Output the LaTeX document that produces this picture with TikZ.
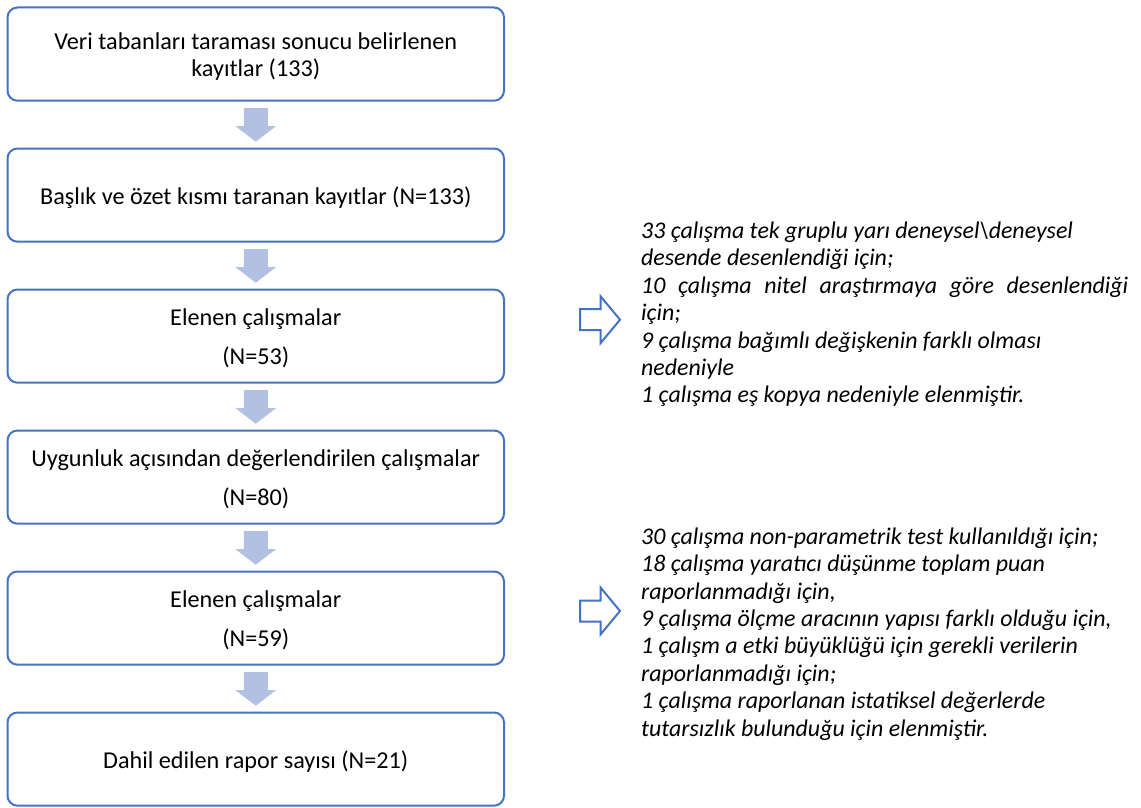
\documentclass[tikz,border=0pt]{standalone}
\usepackage{fontspec}
\setmainfont{Carlito}
\usetikzlibrary{calc}
\definecolor{boxblue}{RGB}{68,114,196}
\definecolor{arrfill}{RGB}{178,192,226}
\tikzset{
 stepbox/.style={draw=boxblue, line width=2pt, rounded corners=10pt, fill=white,
   minimum width=496.5pt, minimum height=93.2pt, align=center, inner sep=0pt,
   font=\fontsize{24.2}{27.3}\selectfont},
 note/.style={anchor=north west, align=left, inner sep=0pt,
   font=\fontsize{23.9}{27.4}\selectfont\itshape},
 downarr/.style={fill=arrfill},
 rightarr/.style={draw=boxblue, line width=2pt, fill=white, line join=miter},
}
\newcommand\boxtext[1]{\raisebox{-3.5pt}[\height][\depth]{\begin{tabular}{@{}c@{}}#1\end{tabular}}}
\newcommand\flowarrow[2]{%
  \fill[downarr] ($(#1.south)+(-12,6.3)$) -- ($(#1.south)+(12,6.3)$)
    -- ($(#1.south)+(12,24.3)$) -- ($(#1.south)+(20.5,24.3)$)
    -- ($(#2.north)+(0,-5.8)$)
    -- ($(#1.south)+(-20.5,24.3)$) -- ($(#1.south)+(-12,24.3)$) -- cycle;}
\newcommand\sidearrow[1]{%
  \draw[rightarr] (580,#1-10.5) -- (600.5,#1-10.5) -- (600.5,#1-23.5)
    -- (620,#1) -- (600.5,#1+23.5) -- (600.5,#1+10.5) -- (580,#1+10.5) -- cycle;}
\begin{document}
\begin{tikzpicture}[x=1pt,y=-1pt]
\useasboundingbox (0,0) rectangle (1141,808);
\node[stepbox] (b1) at (255.75,54.1) {\boxtext{Veri tabanları taraması sonucu belirlenen\\kayıtlar (133)}};
\node[stepbox] (b2) at (255.75,195.1) {\boxtext{Başlık ve özet kısmı taranan kayıtlar (N=133)}};
\node[stepbox] (b3) at (255.75,336.1) {\boxtext{Elenen çalışmalar\\[12pt](N=53)}};
\node[stepbox] (b4) at (255.75,477.1) {\boxtext{Uygunluk açısından değerlendirilen çalışmalar\\[12pt](N=80)}};
\node[stepbox] (b5) at (255.75,618.1) {\boxtext{Elenen çalışmalar\\[12pt](N=59)}};
\node[stepbox] (b6) at (255.75,759.1) {\boxtext{Dahil edilen rapor sayısı (N=21)}};
\flowarrow{b1}{b2}
\flowarrow{b2}{b3}
\flowarrow{b3}{b4}
\flowarrow{b4}{b5}
\flowarrow{b5}{b6}
\sidearrow{319.7}
\sidearrow{611}
\node[note] (n1) at (641,221.8) {33 çalışma tek gruplu yarı deneysel\textbackslash deneysel\\
desende desenlendiği için;\\
\makebox[487pt][s]{10 çalışma nitel araştırmaya göre desenlendiği}\\
için;\\
9 çalışma bağımlı değişkenin farklı olması\\
nedeniyle\\
1 çalışma eş kopya nedeniyle elenmiştir.};
\node[note] (n2) at (641,527.5) {30 çalışma non-parametrik test kullanıldığı için;\\
18 çalışma yaratıcı düşünme toplam puan\\
raporlanmadığı için,\\
9 çalışma ölçme aracının yapısı farklı olduğu için,\\
1 çalışm a etki büyüklüğü için gerekli verilerin\\
raporlanmadığı için;\\
1 çalışma raporlanan istatiksel değerlerde\\
tutarsızlık bulunduğu için elenmiştir.};
\end{tikzpicture}
\end{document}
